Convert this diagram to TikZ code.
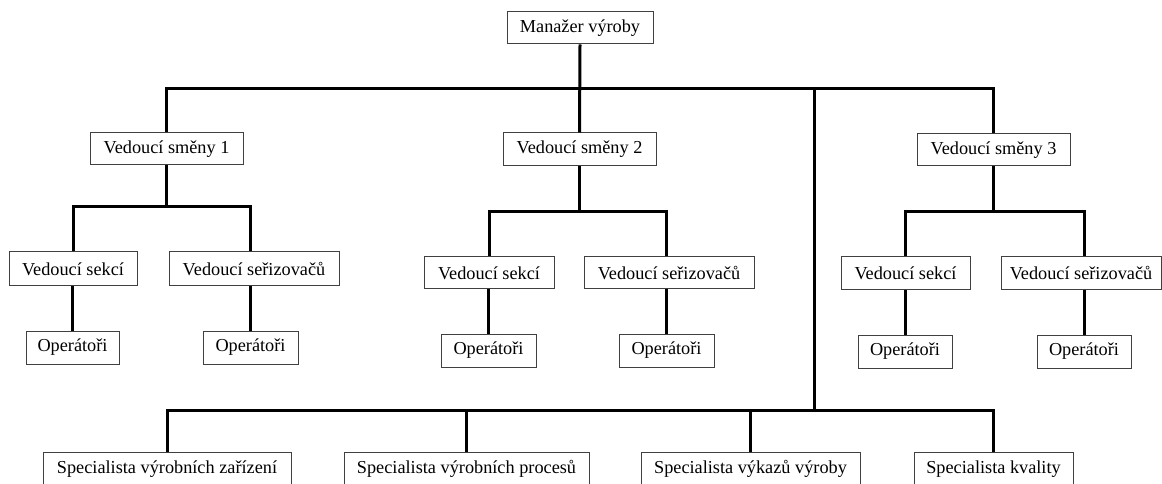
\documentclass[tikz,border=0pt]{standalone}
\usepackage{fontspec}
\setmainfont{Liberation Serif}
\definecolor{boxgray}{HTML}{404040}
\begin{document}
\begin{tikzpicture}[x=0.75pt,y=-0.75pt,
  box/.style={draw=boxgray, line width=0.75pt, fill=white, inner sep=0pt,
    font=\fontsize{13.7}{16}\selectfont},
  sz/.style 2 args={minimum width=#1*0.75pt, minimum height=#2*0.75pt},
  conn/.style={draw=black, line width=2.25pt}]
\useasboundingbox (0,0) rectangle (1162,484);

% nodes
\node[box, sz={146}{32}] (man) at (580,28) {Manažer výroby};
\node[box, sz={153}{32}] (vs1) at (166.5,149) {Vedoucí směny 1};
\node[box, sz={153}{33}] (vs2) at (579.5,149.5) {Vedoucí směny 2};
\node[box, sz={153}{32}] (vs3) at (993.5,150) {Vedoucí směny 3};

\node[box, sz={128}{34}] (sek1) at (73,269) {Vedoucí sekcí};
\node[box, sz={170}{34}] (ser1) at (254,269) {Vedoucí seřizovačů};
\node[box, sz={93}{33}] (op1a) at (72.5,347.5) {Operátoři};
\node[box, sz={95}{33}] (op1b) at (250.5,347.5) {Operátoři};

\node[box, sz={130}{32}] (sek2) at (489,273) {Vedoucí sekcí};
\node[box, sz={170}{32}] (ser2) at (669,273) {Vedoucí seřizovačů};
\node[box, sz={95}{33}] (op2a) at (488.5,350.5) {Operátoři};
\node[box, sz={95}{33}] (op2b) at (666.5,350.5) {Operátoři};

\node[box, sz={129}{33}] (sek3) at (905.5,273.5) {Vedoucí sekcí};
\node[box, sz={160}{33}] (ser3) at (1081,273.5) {Vedoucí seřizovačů};
\node[box, sz={94}{33}] (op3a) at (905,351.5) {Operátoři};
\node[box, sz={94}{33}] (op3b) at (1084,351.5) {Operátoři};

\node[box, sz={248}{34}] (sp1) at (167,469) {Specialista výrobních zařízení};
\node[box, sz={245}{34}] (sp2) at (466.5,469) {Specialista výrobních procesů};
\node[box, sz={219}{34}] (sp3) at (750.5,469) {Specialista výkazů výroby};
\node[box, sz={159}{34}] (sp4) at (993.5,469) {Specialista kvality};

% junction coordinates
\coordinate (tb) at (580,89);
\coordinate (jt) at (814,89);
\coordinate (jb) at (814,410);
\coordinate (b1) at (166,207);
\coordinate (b2) at (578,212);
\coordinate (b3) at (993,212);

\begin{scope}[on background layer/.try]
\end{scope}

% connectors (drawn, then boxes redrawn on top)
\draw[conn] (man.south) -- (vs2.north);
\draw[conn] (vs1.north) |- (tb) -| (vs3.north);
\draw[conn] (jt) -- (jb);
\draw[conn] (sp1.north) |- (jb) -| (sp4.north);
\draw[conn] (sp2.north) -- (sp2.north |- jb);
\draw[conn] (sp3.north) -- (sp3.north |- jb);

\draw[conn] (vs1.south) -- (vs1.south |- b1);
\draw[conn] (sek1.north) |- (b1) -| (op1b.north |- ser1.north);
\draw[conn] (op1a.north) -- (op1a.north |- sek1.south);
\draw[conn] (op1b.north) -- (op1b.north |- ser1.south);

\draw[conn] (vs2.south) -- (vs2.south |- b2);
\draw[conn] (sek2.north) |- (b2) -| (op2b.north |- ser2.north);
\draw[conn] (op2a.north) -- (op2a.north |- sek2.south);
\draw[conn] (op2b.north) -- (op2b.north |- ser2.south);

\draw[conn] (vs3.south) -- (vs3.south |- b3);
\draw[conn] (sek3.north) |- (b3) -| (op3b.north |- ser3.north);
\draw[conn] (op3a.north) -- (op3a.north |- sek3.south);
\draw[conn] (op3b.north) -- (op3b.north |- ser3.south);
\end{tikzpicture}
\end{document}
